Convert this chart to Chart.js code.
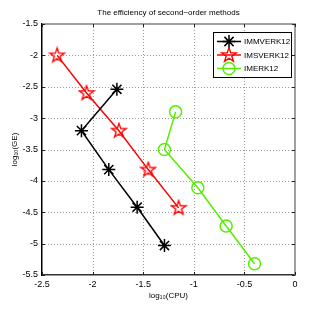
<!DOCTYPE html>
<html>
<head>
<meta charset="utf-8">
<script src="https://cdn.jsdelivr.net/npm/chart.js"></script>
<style>
  html, body { margin: 0; padding: 0; background: #fff; }
  canvas { display: block; }
</style>
</head>
<body>
<canvas id="effChart" width="327" height="311"></canvas>
<script>
// values (log10 CPU vs log10 GE)
var cpuImmverk = [-1.76, -2.11, -1.84, -1.56, -1.29];
var geImmverk  = [-2.54, -3.20, -3.82, -4.42, -5.03];

var cpuImsverk = [-2.35, -2.06, -1.74, -1.45, -1.15];
var geImsverk  = [-2.00, -2.60, -3.20, -3.82, -4.43];

var cpuImerk = [-1.18, -1.29, -0.96, -0.68, -0.40];
var geImerk  = [-2.90, -3.50, -4.11, -4.72, -5.32];

var seriesNames = ["IMMVERK12", "IMSVERK12", "IMERK12"];
var xTicks = [-2.5, -2, -1.5, -1, -0.5, 0];
var yTicks = [-5.5, -5, -4.5, -4, -3.5, -3, -2.5, -2, -1.5];

var FONT = "'Liberation Sans', Arial, Helvetica, sans-serif";

function toPoints(xs, ys) {
  var pts = [];
  for (var i = 0; i < xs.length; i++) pts.push({x: xs[i], y: ys[i]});
  return pts;
}

// red pentagram marker (unfilled, like matlab 'p')
function makePentagram(color) {
  var c = document.createElement("canvas");
  c.width = 18; c.height = 18;
  var g = c.getContext("2d");
  var R = 7.5, r = 3.0, cx = 9, cy = 9.3;
  g.beginPath();
  for (var k = 0; k < 10; k++) {
    var rad = (k % 2 === 0) ? R : r;
    var a = -Math.PI / 2 + k * Math.PI / 5;
    var px = cx + rad * Math.cos(a), py = cy + rad * Math.sin(a);
    if (k === 0) g.moveTo(px, py); else g.lineTo(px, py);
  }
  g.closePath();
  g.strokeStyle = color;
  g.lineWidth = 1.4;
  g.stroke();
  return c;
}
var starImg = makePentagram("#ff0000");

// dotted grid, box and inward ticks like matlab axes
var framePlugin = {
  id: "frame",
  beforeDatasetsDraw: function (chart) {
    var ctx = chart.ctx, a = chart.chartArea;
    var xs = chart.scales.x, ys = chart.scales.y;
    ctx.save();
    ctx.strokeStyle = "#9a9a9a";
    ctx.lineWidth = 1;
    ctx.setLineDash([1, 2]);
    ctx.beginPath();
    xTicks.slice(1, -1).forEach(function (v) {
      var px = Math.round(xs.getPixelForValue(v)) + 0.5;
      ctx.moveTo(px, a.top); ctx.lineTo(px, a.bottom);
    });
    yTicks.slice(1, -1).forEach(function (v) {
      var py = Math.round(ys.getPixelForValue(v)) + 0.5;
      ctx.moveTo(a.left, py); ctx.lineTo(a.right, py);
    });
    ctx.stroke();
    ctx.restore();
  },
  afterDraw: function (chart) {
    var ctx = chart.ctx, a = chart.chartArea;
    var xs = chart.scales.x, ys = chart.scales.y;
    ctx.save();
    ctx.lineWidth = 1.5;
    ctx.strokeStyle = "#808080";
    ctx.beginPath();
    ctx.moveTo(a.left, a.top); ctx.lineTo(a.right, a.top);
    ctx.lineTo(a.right, a.bottom);
    ctx.stroke();
    ctx.lineWidth = 1;
    ctx.strokeStyle = "#222";
    ctx.beginPath();
    xTicks.forEach(function (v) {
      var px = Math.round(xs.getPixelForValue(v)) + 0.5;
      ctx.moveTo(px, a.bottom); ctx.lineTo(px, a.bottom - 3);
      ctx.moveTo(px, a.top); ctx.lineTo(px, a.top + 3);
    });
    yTicks.forEach(function (v) {
      var py = Math.round(ys.getPixelForValue(v)) + 0.5;
      ctx.moveTo(a.left, py); ctx.lineTo(a.left + 3, py);
      ctx.moveTo(a.right, py); ctx.lineTo(a.right - 3, py);
    });
    ctx.stroke();
    ctx.restore();
  }
};

// legend box drawn in the upper right corner of the plot
var legendBox = {
  id: "legendBox",
  afterDraw: function (chart) {
    var ctx = chart.ctx;
    var x0 = 213.5, y0 = 32.5, w = 78, h = 45;
    ctx.save();
    ctx.fillStyle = "#fff";
    ctx.fillRect(x0, y0, w, h);
    ctx.strokeStyle = "#000";
    ctx.lineWidth = 1;
    ctx.strokeRect(x0, y0, w, h);
    chart.data.datasets.forEach(function (ds, i) {
      var y = 41.5 + i * 13.5;
      ctx.strokeStyle = ds.borderColor;
      ctx.lineWidth = 1.5;
      ctx.beginPath();
      ctx.moveTo(217, y); ctx.lineTo(241, y);
      ctx.stroke();
      ctx.fillStyle = "rgba(0,0,0,0)";
      Chart.helpers.drawPoint(ctx, {
        pointStyle: ds.pointStyle,
        radius: ds.pointRadius,
        borderWidth: ds.pointBorderWidth,
        rotation: 0
      }, 229, y);
      ctx.fillStyle = "#000";
      ctx.font = "8px " + FONT;
      ctx.textAlign = "left";
      ctx.textBaseline = "middle";
      ctx.fillText(ds.label, 244, y + 0.5);
    });
    ctx.restore();
  }
};

var tickText = function (v) { return String(v); };

var canvasEff = document.getElementById("effChart");
var effChart = new Chart(canvasEff, {
  type: "scatter",
  data: {
    datasets: [
      {
        label: seriesNames[0],
        data: toPoints(cpuImmverk, geImmverk),
        showLine: true,
        borderColor: "#000000",
        backgroundColor: "rgba(0,0,0,0)",
        borderWidth: 1.5,
        pointStyle: "star",
        pointRadius: 6.5,
        pointBorderWidth: 1.5
      },
      {
        label: seriesNames[1],
        data: toPoints(cpuImsverk, geImsverk),
        showLine: true,
        borderColor: "#ff0000",
        backgroundColor: "rgba(0,0,0,0)",
        borderWidth: 1.5,
        pointStyle: starImg,
        pointRadius: 8,
        pointBorderWidth: 1.5
      },
      {
        label: seriesNames[2],
        data: toPoints(cpuImerk, geImerk),
        showLine: true,
        borderColor: "#55ee00",
        backgroundColor: "rgba(0,0,0,0)",
        borderWidth: 1.5,
        pointStyle: "circle",
        pointRadius: 6,
        pointBorderWidth: 1.5
      }
    ]
  },
  options: {
    responsive: false,
    animation: false,
    layout: { padding: { left: 0, right: 32, top: 0, bottom: 0 } },
    plugins: {
      legend: { display: false },
      tooltip: { enabled: false },
      title: {
        display: true,
        fullSize: false,
        text: "The efficiency of second\u2212order methods",
        color: "#000",
        font: { family: FONT, size: 8, weight: "normal" },
        padding: { top: 7.5, bottom: 6.9 }
      }
    },
    scales: {
      x: {
        type: "linear",
        min: -2.5,
        max: 0,
        afterBuildTicks: function (s) { s.ticks = xTicks.map(function (v) { return {value: v}; }); },
        afterFit: function (s) { s.height = 36; },
        ticks: { color: "#000", font: { family: FONT, size: 9 }, padding: 4, maxRotation: 0, callback: tickText },
        grid: { display: false, drawTicks: false, tickLength: 0 },
        border: { display: true, color: "#333", width: 1.5 },
        title: {
          display: true,
          text: "log\u2081\u2080(CPU)",
          color: "#000",
          font: { family: FONT, size: 8 },
          padding: { top: 0, bottom: 10 }
        }
      },
      y: {
        type: "linear",
        min: -5.5,
        max: -1.5,
        afterBuildTicks: function (s) { s.ticks = yTicks.map(function (v) { return {value: v}; }); },
        afterFit: function (s) { s.width = 42; },
        ticks: { color: "#000", font: { family: FONT, size: 9 }, padding: 4, callback: tickText },
        grid: { display: false, drawTicks: false, tickLength: 0 },
        border: { display: true, color: "#000", width: 1.5 },
        title: {
          display: true,
          text: "log\u2081\u2080(GE)",
          color: "#000",
          font: { family: FONT, size: 8 },
          padding: { top: 10, bottom: 0 }
        }
      }
    },
    elements: { line: { tension: 0 } }
  },
  plugins: [framePlugin, legendBox]
});
</script>
</body>
</html>
